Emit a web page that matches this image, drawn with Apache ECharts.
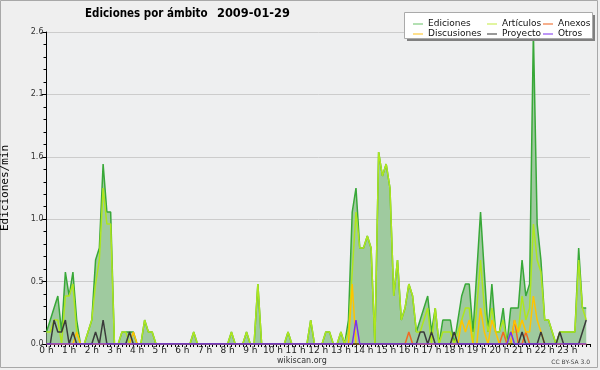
<!DOCTYPE html>
<html><head><meta charset="utf-8">
<script src="https://cdn.jsdelivr.net/npm/echarts/dist/echarts.min.js"></script>
<style>html,body{margin:0;padding:0;background:#efefef}#c{width:600px;height:370px}</style>
</head><body><div id="c"></div>
<script>
// Tick labels
const hourLabels = ['0 h','1 h','2 h','3 h','4 h','5 h','6 h','7 h','8 h','9 h','10 h','11 h','12 h','13 h','14 h','15 h','16 h','17 h','18 h','19 h','20 h','21 h','22 h','23 h'];
// values per 10-minute slot (edits/min), 144 slots, 12 per row (2 hours)
const ediciones = [
0.1,0.2,0.3,0.4,0.1,0.6, 0.4,0.6,0.2,0,0,0.1,
0.2,0.7,0.8,1.5,1.1,1.1, 0,0,0.1,0.1,0.1,0.1,
0,0,0.2,0.1,0.1,0, 0,0,0,0,0,0,
0,0,0,0.1,0,0, 0,0,0,0,0,0,
0,0.1,0,0,0,0.1, 0,0,0.5,0,0,0,
0,0,0,0,0.1,0, 0,0,0,0,0.2,0,
0,0,0.1,0.1,0,0, 0.1,0,0.2,1.1,1.3,0.8,
0.8,0.9,0.8,0,1.6,1.4, 1.5,1.3,0.4,0.7,0.2,0.3,
0.5,0.4,0.1,0.2,0.3,0.4, 0.1,0.3,0,0.2,0.2,0.2,
0,0.2,0.4,0.5,0.5,0.1, 0.6,1.1,0.6,0.1,0.5,0.1,
0.1,0.3,0,0.3,0.3,0.3, 0.7,0.4,0.5,2.6,1.0,0.7,
0.2,0.2,0.1,0,0.1,0.1, 0.1,0.1,0.1,0.8,0.3,0.3
];
const articulos = [
0.1,0.1,0.2,0.2,0,0.4, 0.4,0.5,0.1,0,0,0.1,
0.2,0.5,0.7,1.3,1.0,1.0, 0,0,0.1,0.1,0,0,
0,0,0.2,0.1,0.1,0, 0,0,0,0,0,0,
0,0,0,0.1,0,0, 0,0,0,0,0,0,
0,0.1,0,0,0,0.1, 0,0,0.5,0,0,0,
0,0,0,0,0.1,0, 0,0,0,0,0.2,0,
0,0,0.1,0.1,0,0, 0.1,0,0.1,0.6,1.1,0.8,
0.8,0.9,0.8,0,1.6,1.4, 1.5,1.3,0.4,0.7,0.2,0.3,
0.5,0.4,0.1,0.1,0.2,0.3, 0,0.3,0,0.1,0.1,0.1,
0,0.1,0.2,0.3,0.3,0, 0.3,0.7,0.3,0.1,0.3,0.1,
0.1,0.2,0,0.1,0.1,0.1, 0.4,0.2,0.3,1.0,0.7,0.6,
0.2,0.2,0.1,0,0.1,0.1, 0.1,0.1,0.1,0.7,0.3,0.2
];
const anexos = new Array(144).fill(0);
const discusiones = new Array(144).fill(0);
const proyecto = new Array(144).fill(0);
const otros = new Array(144).fill(0);
// sparse non-zero readings [slot, value]
const anexosPts = [[96,0.1],[121,0.1],[124,0.2],[127,0.1]];
const discusionesPts = [[8,0.1],[23,0.1],[81,0.5],[110,0.2],[111,0.1],[112,0.2],[115,0.3],[116,0.1],[118,0.2],[119,0.1],[124,0.2],[125,0.1],[126,0.2],[127,0.1],[128,0.1],[129,0.4],[130,0.2],[131,0.1]];
const proyectoPts = [[2,0.2],[3,0.1],[4,0.1],[5,0.2],[7,0.1],[13,0.1],[15,0.2],[22,0.1],[99,0.1],[100,0.1],[102,0.1],[108,0.1],[126,0.1],[131,0.1],[136,0.1],[142,0.1],[143,0.2]];
const otrosPts = [[82,0.2],[123,0.1]];
anexosPts.forEach(p=>anexos[p[0]]=p[1]);
discusionesPts.forEach(p=>discusiones[p[0]]=p[1]);
proyectoPts.forEach(p=>proyecto[p[0]]=p[1]);
otrosPts.forEach(p=>otros[p[0]]=p[1]);

const colors = {Ediciones:'#38a838',Artículos:'#aee61e',Anexos:'#f06a24',Discusiones:'#ffc400',Proyecto:'#3a3a3a',Otros:'#7a30ee'};
const legendColors = {Ediciones:'#80cc80',Artículos:'#cdee60',Anexos:'#f07a40',Discusiones:'#ffcc40',Proyecto:'#555555',Otros:'#9050f0'};
const toXY = arr => arr.map((v,i)=>[i/6, v]);
const F = 'DejaVu Sans';

function mkSeries(name, arr, z, area){
  const s = {name, type:'line', data:toXY(arr), symbol:'none', z,
    lineStyle:{width:1.5,color:colors[name]}, itemStyle:{color:colors[name]}, animation:false};
  if (area) s.areaStyle = {color:'#9fca9f', opacity:1};
  return s;
}
function mkLegend(names, left){
  return {orient:'vertical', left, top:14, itemGap:0, itemWidth:10, itemHeight:1.2, icon:'rect',
    selectedMode:false, z:30,
    data:names.map(n=>({name:n, itemStyle:{color:legendColors[n]}})),
    textStyle:{fontFamily:F, fontSize:9, color:'#111', lineHeight:10, padding:[0,0,0,0]}};
}
const chart = echarts.init(document.getElementById('c'), null, {renderer:'canvas'});
chart.setOption({
  backgroundColor:'#efefef',
  animation:false,
  grid:{left:46.5, right:10, top:32, bottom:26, show:true, backgroundColor:'#eeeff0', borderWidth:0,
        containLabel:false, outerBoundsMode:'none'},
  graphic:[
    {type:'rect', shape:{x:0.5,y:0.5,width:597,height:367}, style:{fill:null, stroke:'#a8a8a8', lineWidth:1}, z:0},
    {type:'rect', shape:{x:407,y:15,width:188,height:26}, style:{fill:'#808080'}, z:10},
    {type:'rect', shape:{x:404.5,y:12.5,width:188,height:26}, style:{fill:'#fff', stroke:'#aaa', lineWidth:1}, z:11},
    {type:'text', x:85, y:8, scaleX:0.86, style:{text:'Ediciones por ámbito', font:'bold 12px "DejaVu Sans"', fill:'#000'}, z:20},
    {type:'text', x:217, y:8, scaleX:0.95, style:{text:'2009-01-29', font:'bold 12px "DejaVu Sans"', fill:'#000'}, z:20},
    {type:'text', x:277, y:357, style:{text:'wikiscan.org', font:'8px "DejaVu Sans"', fill:'#333'}, z:20},
    {type:'text', x:590, y:359, style:{text:'CC BY-SA 3.0', font:'6px "DejaVu Sans"', fill:'#444', align:'right'}, z:20}
  ],
  legend:[
    mkLegend(['Ediciones','Discusiones'],408),
    mkLegend(['Artículos','Proyecto'],482),
    mkLegend(['Anexos','Otros'],538)
  ],
  xAxis:{type:'value', min:0, max:24, interval:1,
    axisLine:{show:true, lineStyle:{color:'#000', width:1}},
    axisTick:{show:true, length:3, lineStyle:{color:'#000'}},
    minorTick:{show:true, splitNumber:6, length:3, lineStyle:{color:'#000'}},
    splitLine:{show:false},
    axisLabel:{margin:2, fontFamily:F, fontSize:9, color:'#222', formatter:v=> hourLabels[v] || ''}
  },
  yAxis:{type:'value', min:0, max:2.6, interval:0.52,
    name:'Ediciones/min', nameLocation:'middle', nameGap:36, nameRotate:90,
    nameTextStyle:{fontFamily:'DejaVu Sans Mono', fontSize:11, color:'#000'},
    axisLine:{show:true, lineStyle:{color:'#000', width:1}},
    axisTick:{show:true, length:5, lineStyle:{color:'#000'}},
    minorTick:{show:true, splitNumber:5, length:3, lineStyle:{color:'#000'}},
    splitLine:{show:true, lineStyle:{color:'#cccccc', width:1}},
    axisLabel:{margin:3, fontFamily:F, fontSize:8, color:'#333', formatter:v=>v.toFixed(1)}
  },
  series:[
    mkSeries('Ediciones', ediciones, 2, true),
    mkSeries('Artículos', articulos, 3),
    mkSeries('Anexos', anexos, 4),
    mkSeries('Discusiones', discusiones, 4),
    mkSeries('Proyecto', proyecto, 5),
    mkSeries('Otros', otros, 6)
  ]
});
</script></body></html>
